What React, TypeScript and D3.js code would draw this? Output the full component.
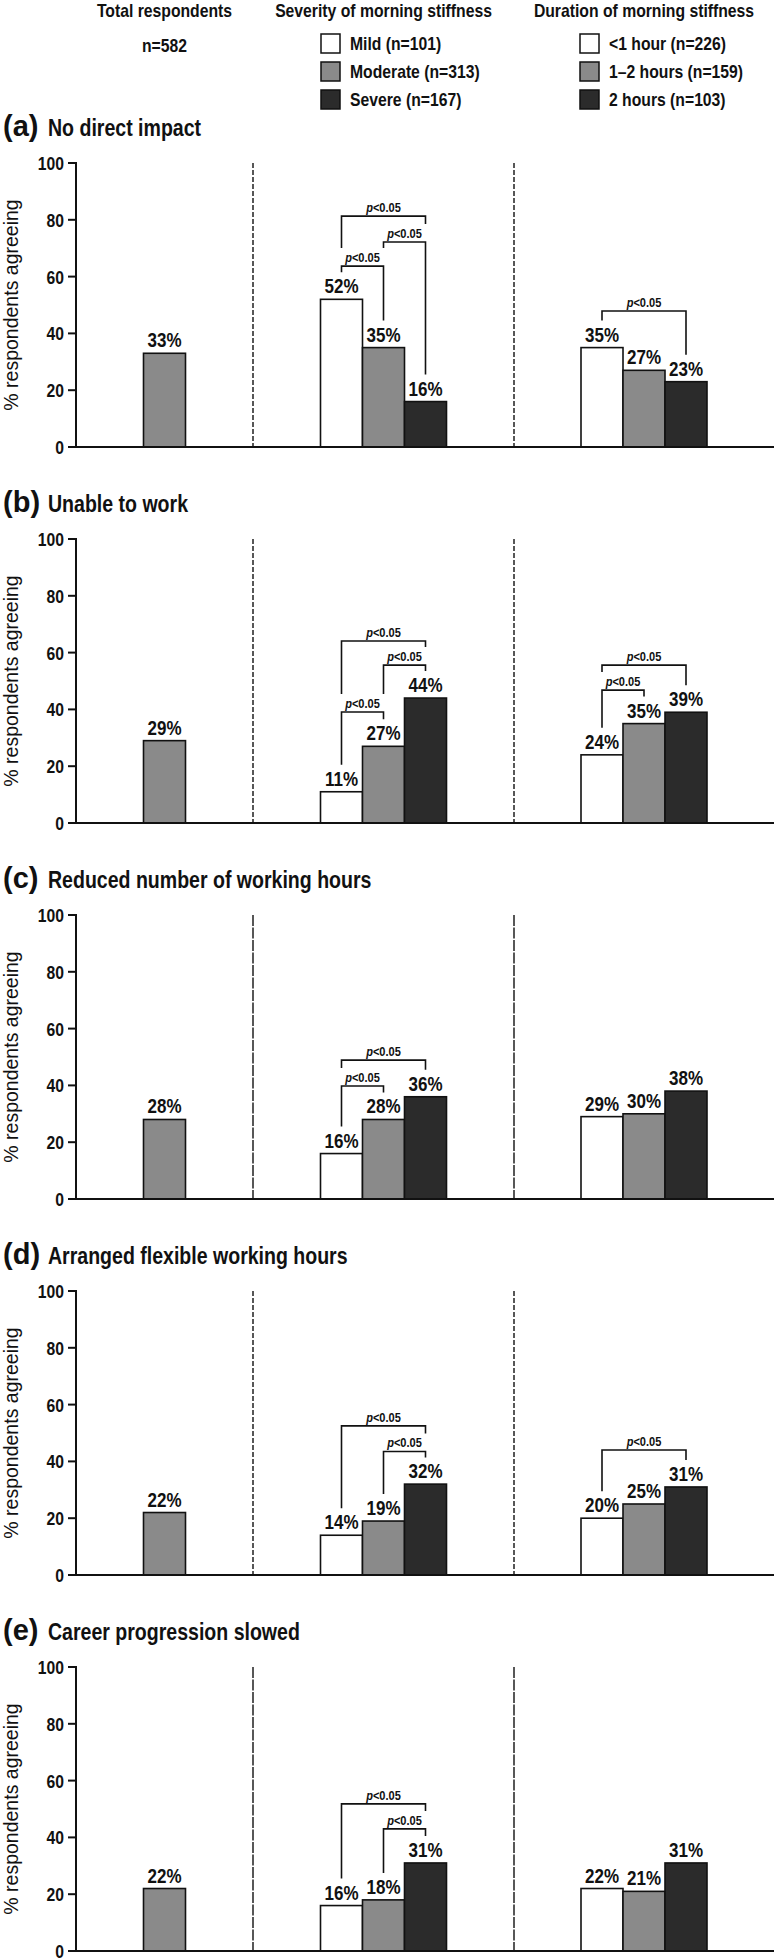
import * as d3 from 'd3'

// ---- data ----
const panelLetters = ['a', 'b', 'c', 'd', 'e']
const panelTitles = [
  'No direct impact',
  'Unable to work',
  'Reduced number of working hours',
  'Arranged flexible working hours',
  'Career progression slowed',
]
const totalValues = [33, 29, 28, 22, 22]
const severityValues = [
  [52, 35, 16],
  [11, 27, 44],
  [16, 28, 36],
  [14, 19, 32],
  [16, 18, 31],
]
const durationValues = [
  [35, 27, 23],
  [24, 35, 39],
  [29, 30, 38],
  [20, 25, 31],
  [22, 21, 31],
]
// [from bar, to bar, bracket level in %]
const severityBrackets = [
  [[0, 1, 63.7], [0, 2, 81.3], [1, 2, 72.2]],
  [[0, 2, 64.1], [1, 2, 55.6], [0, 1, 39.1]],
  [[0, 2, 48.9], [0, 1, 39.8]],
  [[0, 2, 52.5], [1, 2, 43.5]],
  [[0, 2, 51.8], [1, 2, 43]],
]
const durationBrackets = [
  [[0, 2, 47.9]],
  [[0, 2, 55.6], [0, 1, 46.8]],
  [],
  [[0, 2, 44]],
  [],
]
const headings = ['Total respondents', 'Severity of morning stiffness', 'Duration of morning stiffness']
const totalN = 'n=582'
const severityLabels = ['Mild (n=101)', 'Moderate (n=313)', 'Severe (n=167)']
const durationLabels = ['<1 hour (n=226)', '1–2 hours (n=159)', '2 hours (n=103)']
const yTicks = [0, 20, 40, 60, 80, 100]
const yLabel = '% respondents agreeing'
const pText = '<0.05'

// ---- layout ----
const W = 774
const H = 1959
const FONT = "'Liberation Sans', Arial, Helvetica, sans-serif"
const SX = 0.85 // horizontal squeeze to mimic a condensed face
const INK = '#111'
const PANEL_TOPS = [163, 539, 915, 1291, 1667]
const PLOT_H = 284
const AXIS_X = 76
const BAR_W = 42
const FILLS = ['#ffffff', '#8a8a8a', '#2b2b2b']
const DASHES = ['5,2', '5,2', '11,1.5', '5,2', '11,1.5']

// piecewise scale: three sections split by the dashed lines
const xSection = d3.scaleLinear().domain([0, 1, 2, 3]).range([AXIS_X, 253, 514, W])

function CText({ x, y, size, anchor = 'start', weight = 'bold', sx = SX, children }: any) {
  return (
    <text transform={`translate(${x},${y}) scale(${sx},1)`} textAnchor={anchor}
      fontFamily={FONT} fontWeight={weight} fontSize={size} fill={INK}>
      {children}
    </text>
  )
}

function bandFor(section: number, n: number) {
  const c = xSection(section + 0.5)
  return d3.scaleBand<string>()
    .domain(d3.range(n).map(String))
    .range([c - (n * BAR_W) / 2, c + (n * BAR_W) / 2])
    .paddingInner(0)
}

function Group({ section, values, fills, brackets, y }: any) {
  const band = bandFor(section, values.length)
  const cx = (i: number) => (band(String(i)) as number) + band.bandwidth() / 2
  const labelTop = (i: number) => y(values[i]) - 27

  // a leg runs down until it meets the label below or the next bracket below
  const legStop = (k: number, i: number) => {
    const yk = y(brackets[k][2])
    let stop = labelTop(i)
    brackets.forEach((b: number[], m: number) => {
      if (m === k) return
      const ym = y(b[2])
      if (ym > yk && b[0] <= i && i <= b[1]) stop = Math.min(stop, ym - 18)
    })
    return Math.max(stop, yk + 6)
  }

  return (
    <g>
      {values.map((v: number, i: number) => (
        <g key={i}>
          <rect x={band(String(i))} y={y(v)} width={band.bandwidth()} height={y(0) - y(v)}
            fill={fills[i]} stroke={INK} strokeWidth={1.6} />
          <CText x={cx(i)} y={y(v) - 6} size={20} anchor="middle">{v}%</CText>
        </g>
      ))}
      {brackets.map((b: number[], k: number) => {
        const yk = y(b[2])
        const x1 = cx(b[0])
        const x2 = cx(b[1])
        const path = d3.path()
        path.moveTo(x1, legStop(k, b[0]))
        path.lineTo(x1, yk)
        path.lineTo(x2, yk)
        path.lineTo(x2, legStop(k, b[1]))
        return (
          <g key={'b' + k}>
            <path d={path.toString()} fill="none" stroke={INK} strokeWidth={1.6} />
            <CText x={(x1 + x2) / 2} y={yk - 4} size={13} anchor="middle">
              <tspan fontStyle="italic">p</tspan>{pText}
            </CText>
          </g>
        )
      })}
    </g>
  )
}

function Panel({ index }: { index: number }) {
  const top = PANEL_TOPS[index]
  const y = d3.scaleLinear().domain([0, 100]).range([top + PLOT_H, top])
  return (
    <g>
      <text x={3} y={top - 27} fontFamily={FONT} fontWeight="bold" fontSize={29} fill={INK}>
        ({panelLetters[index]})
      </text>
      <CText x={48} y={top - 27} size={23}>{panelTitles[index]}</CText>
      <text transform={`translate(18,${y(50)}) rotate(-90)`} textAnchor="middle"
        fontFamily={FONT} fontSize={19.5} fill={INK}>{yLabel}</text>
      {[1, 2].map(s => (
        <line key={s} x1={xSection(s)} x2={xSection(s)} y1={y(100)} y2={y(0)}
          stroke={INK} strokeWidth={1.4} strokeDasharray={DASHES[index]} />
      ))}
      <Group section={0} values={[totalValues[index]]} fills={[FILLS[1]]} brackets={[]} y={y} />
      <Group section={1} values={severityValues[index]} fills={FILLS} brackets={severityBrackets[index]} y={y} />
      <Group section={2} values={durationValues[index]} fills={FILLS} brackets={durationBrackets[index]} y={y} />
      {yTicks.map(t => (
        <g key={t}>
          <line x1={AXIS_X - 8} x2={AXIS_X} y1={y(t)} y2={y(t)} stroke={INK} strokeWidth={2} />
          <CText x={AXIS_X - 12} y={y(t) + 7} size={18.5} anchor="end">{t}</CText>
        </g>
      ))}
      <line x1={AXIS_X} x2={AXIS_X} y1={y(100) - 1} y2={y(0)} stroke={INK} strokeWidth={2} />
      <line x1={AXIS_X} x2={W} y1={y(0)} y2={y(0)} stroke={INK} strokeWidth={2} />
    </g>
  )
}

function Legend() {
  const rows = d3.range(3)
  const rowY = d3.scaleLinear().domain([0, 1]).range([34, 62])
  const block = (labels: string[], x0: number) => (
    <g>
      {rows.map(i => (
        <g key={i}>
          <rect x={x0} y={rowY(i)} width={19} height={19} fill={FILLS[i]} stroke={INK} strokeWidth={1.5} />
          <CText x={x0 + 29} y={rowY(i) + 16} size={18.5}>{labels[i]}</CText>
        </g>
      ))}
    </g>
  )
  return (
    <g>
      {headings.map((h, s) => (
        <CText key={h} x={xSection(s + 0.5)} y={17} size={17.5} sx={0.9} anchor="middle">{h}</CText>
      ))}
      <CText x={xSection(0.5)} y={52} size={18.5} anchor="middle">{totalN}</CText>
      {block(severityLabels, 321)}
      {block(durationLabels, 580)}
    </g>
  )
}

export default function App() {
  return (
    <svg width={W} height={H} viewBox={`0 0 ${W} ${H}`}
      style={{ position: 'absolute', left: 0, top: 0, display: 'block', background: '#fff' }}>
      <rect width={W} height={H} fill="#fff" />
      <Legend />
      {panelLetters.map((_, i) => <Panel key={i} index={i} />)}
    </svg>
  )
}
